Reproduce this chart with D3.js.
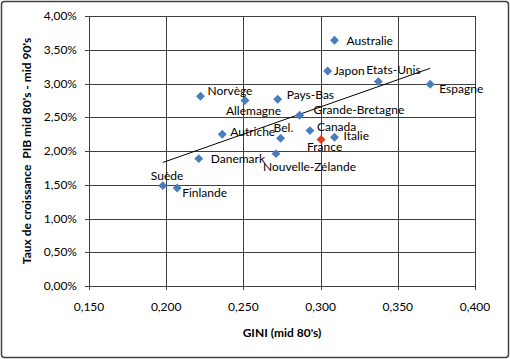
<!DOCTYPE html>
<html>
<head>
<meta charset="utf-8">
<script src="https://cdn.jsdelivr.net/npm/d3@7"></script>
<style>
  body { margin: 0; background: #fff; }
  svg text { font-family: Lato, "Open Sans", sans-serif; fill: #000; }
</style>
</head>
<body>
<div id="chart"></div>
<script>
// data
var countries = ["Australie", "Japon", "Etats-Unis", "Espagne", "Norvège", "Allemagne",
  "Pays-Bas", "Grande-Bretagne", "Autriche", "Bel.", "Canada", "France", "Italie",
  "Danemark", "Nouvelle-Zélande", "Suède", "Finlande"];
var gini = [0.309, 0.3046, 0.3374, 0.371, 0.2222, 0.251, 0.2722, 0.2864, 0.2363,
  0.2741, 0.2931, 0.3003, 0.309, 0.2211, 0.2711, 0.1978, 0.2071];
var growth = [0.0364, 0.03185, 0.03028, 0.02988, 0.0281, 0.02747, 0.02766, 0.02529,
  0.02247, 0.02188, 0.02302, 0.02169, 0.02203, 0.01887, 0.01961, 0.01487, 0.01452];
var xTicks = [0.15, 0.2, 0.25, 0.3, 0.35, 0.4];
var yTicks = [0, 0.005, 0.01, 0.015, 0.02, 0.025, 0.03, 0.035, 0.04];

// where each data label sits relative to its marker (dx, dy)
var labelOffset = [[12, 0], [6, 0], [-12, -12], [9, 4], [7, -6], [-19, 10],
  [9, -4], [14, -5], [8, -3], [-7, -11], [7, -4], [-14, 7], [9, -1],
  [12, 0], [-13, 13], [-12, -10], [5, 5]];

var svgWidth = 510;
var svgHeight = 359;
var margin = { top: 16, right: 35, bottom: 73, left: 89 };
var width = svgWidth - margin.left - margin.right;
var height = svgHeight - margin.top - margin.bottom;

var svg = d3.select("#chart")
  .append("svg")
  .attr("width", svgWidth)
  .attr("height", svgHeight);

// chart border
svg.append("rect")
  .attr("x", 1.5).attr("y", 1.5)
  .attr("width", svgWidth - 3).attr("height", svgHeight - 3)
  .attr("rx", 3)
  .attr("fill", "#fff")
  .attr("stroke", "#404040")
  .attr("stroke-width", 1.5);

var chartGroup = svg.append("g")
  .attr("transform", `translate(${margin.left}, ${margin.top})`);

var xScale = d3.scaleLinear().domain([0.15, 0.4]).range([0, width]);
var yScale = d3.scaleLinear().domain([0, 0.04]).range([height, 0]);

var fmtX = d => d3.format(".3f")(d).replace(".", ",");
var fmtY = d => d3.format(".2%")(d).replace(".", ",");

// gridlines
chartGroup.append("g")
  .selectAll("line.h")
  .data(yTicks)
  .enter()
  .append("line")
  .attr("x1", -4).attr("x2", width)
  .attr("y1", d => Math.round(yScale(d)) + 0.5)
  .attr("y2", d => Math.round(yScale(d)) + 0.5)
  .attr("stroke", "#404040");

chartGroup.append("g")
  .selectAll("line.v")
  .data(xTicks)
  .enter()
  .append("line")
  .attr("y1", 0).attr("y2", height + 4)
  .attr("x1", d => Math.round(xScale(d)) + 0.5)
  .attr("x2", d => Math.round(xScale(d)) + 0.5)
  .attr("stroke", "#404040");

// tick labels
chartGroup.selectAll("text.ytick")
  .data(yTicks)
  .enter()
  .append("text")
  .attr("x", -12)
  .attr("y", d => yScale(d))
  .attr("dy", "0.35em")
  .attr("text-anchor", "end")
  .attr("font-size", 12)
  .text(fmtY);

chartGroup.selectAll("text.xtick")
  .data(xTicks)
  .enter()
  .append("text")
  .attr("x", d => xScale(d))
  .attr("y", height + 21)
  .attr("dy", "0.35em")
  .attr("text-anchor", "middle")
  .attr("font-size", 12)
  .text(fmtX);

// axis titles
svg.append("text")
  .attr("x", 282).attr("y", 333)
  .attr("dy", "0.35em")
  .attr("text-anchor", "middle")
  .attr("font-size", 12)
  .attr("font-weight", "bold")
  .text("GINI (mid 80's)");

svg.append("text")
  .attr("transform", "translate(27, 151) rotate(-90)")
  .attr("dy", "0.35em")
  .attr("text-anchor", "middle")
  .attr("font-size", 12)
  .attr("font-weight", "bold")
  .attr("xml:space", "preserve")
  .text("Taux de croissance  PIB mid 80's - mid 90's");

// linear trend line (least squares)
var mx = d3.mean(gini), my = d3.mean(growth);
var sxy = d3.sum(gini, (g, i) => (g - mx) * (growth[i] - my));
var sxx = d3.sum(gini, g => (g - mx) * (g - mx));
var slope = sxy / sxx;
var intercept = my - slope * mx;
var trendX = d3.extent(gini);

chartGroup.append("line")
  .attr("x1", xScale(trendX[0]))
  .attr("y1", yScale(intercept + slope * trendX[0]))
  .attr("x2", xScale(trendX[1]))
  .attr("y2", yScale(intercept + slope * trendX[1]))
  .attr("stroke", "#000")
  .attr("stroke-width", 1);

// points
var points = countries.map((c, i) => ({ name: c, x: gini[i], y: growth[i], off: labelOffset[i] }));

chartGroup.selectAll("path.pt")
  .data(points)
  .enter()
  .append("path")
  .attr("d", d3.symbol().type(d3.symbolSquare).size(40))
  .attr("transform", d => `translate(${xScale(d.x)}, ${yScale(d.y)}) rotate(45)`)
  .attr("fill", d => d.name === "France" ? "#D9401E" : "#4A7EBB");

chartGroup.selectAll("text.lbl")
  .data(points)
  .enter()
  .append("text")
  .attr("x", d => xScale(d.x) + d.off[0])
  .attr("y", d => yScale(d.y) + d.off[1])
  .attr("dy", "0.35em")
  .attr("font-size", 12)
  .text(d => d.name);
</script>
</body>
</html>
